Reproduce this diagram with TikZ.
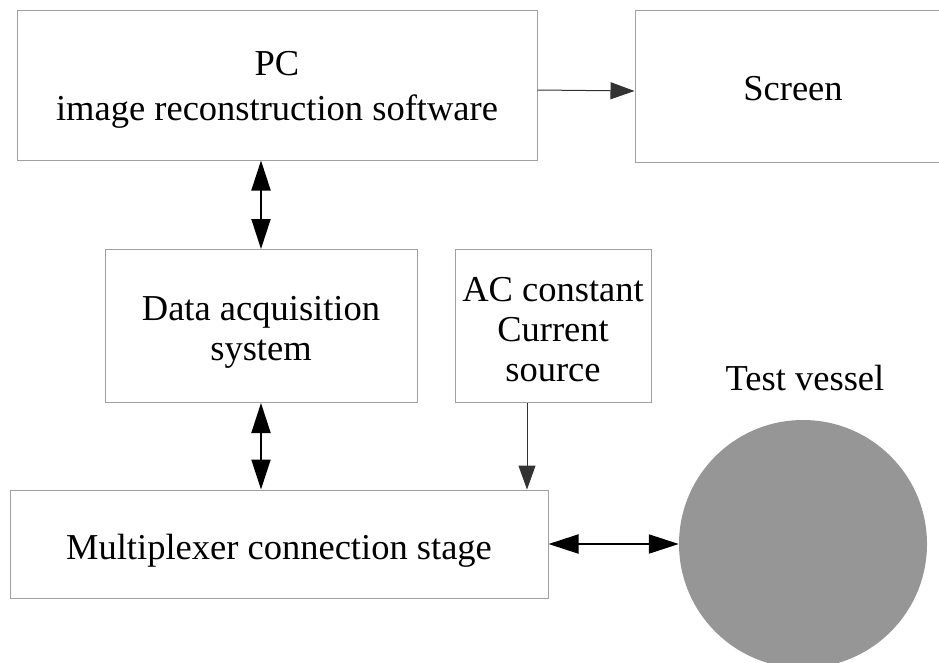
\documentclass[tikz,border=0pt]{standalone}
\usepackage{fontspec}
\setmainfont{Liberation Serif}
\usetikzlibrary{arrows.meta}
\definecolor{framegray}{RGB}{160,160,160}
\definecolor{vesselgray}{RGB}{150,150,150}

\begin{document}
\begin{tikzpicture}[x=1pt,y=-1pt,font=\fontsize{36.5}{40}\selectfont]
  \tikzstyle{block}=[draw=framegray,line width=1pt,inner sep=0pt,align=center,text height=35pt]
  \tikzstyle{link}=[->,draw=black!80,line width=1pt,>={Triangle[length=24pt,width=17pt]}]
  \tikzstyle{bus}=[<->,draw=black,line width=2pt,>={Triangle[length=30pt,width=19pt]}]

  \useasboundingbox (0,0) rectangle (939,662);

  % multi-line boxes: text height counts every line, so it is set per box
  \node[block,text height=78pt,minimum width=520pt,minimum height=150pt] (PC) at (277,85) {PC\\[5pt]image reconstruction software};
  \node[block,text height=30pt,minimum width=316pt,minimum height=152pt] (Scr) at (793,86) {Screen};
  \node[block,text height=77pt,minimum width=312pt,minimum height=153pt] (DAQ) at (261,326) {Data acquisition\\system};
  \node[block,text height=111pt,minimum width=196pt,minimum height=153pt] (AC) at (553,326) {AC constant\\Current\\source};
  \node[block,text height=39pt,minimum width=538pt,minimum height=108pt] (Mux) at (279,544) {Multiplexer connection stage};
  \node[circle,fill=vesselgray,inner sep=0pt,minimum size=248pt] (vessel) at (803,544) {};
  \node (vesselname) at (805,378) {Test vessel};

  \path ([yshift=-5pt]PC.east) edge[link] ([yshift=-5pt]Scr.west)
        (DAQ.north) edge[bus] (DAQ.north |- PC.south)
        (DAQ.south) edge[bus] (DAQ.south |- Mux.north)
        ([xshift=-26pt]AC.south) edge[link] ([xshift=-26pt]AC.south |- Mux.north)
        (Mux.east) edge[bus] (vessel.west);
\end{tikzpicture}
\end{document}
